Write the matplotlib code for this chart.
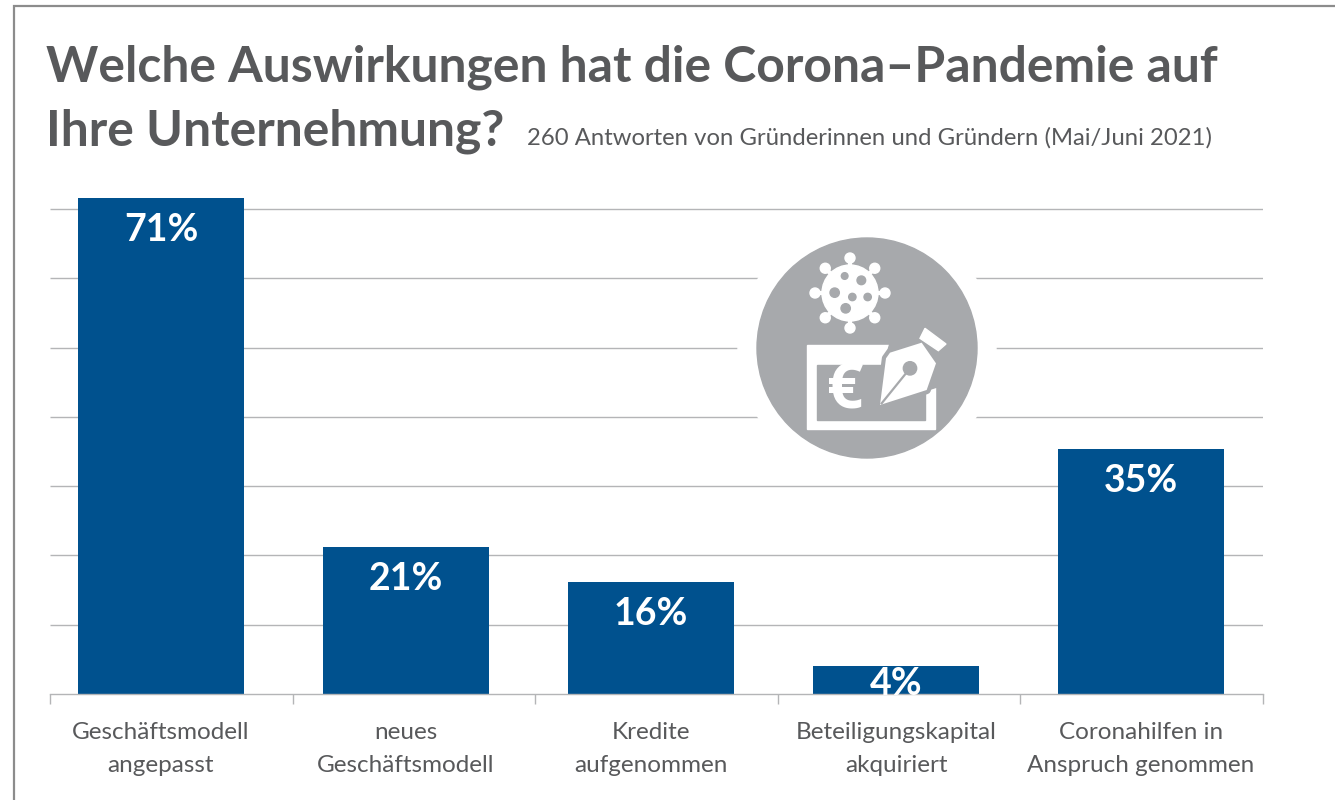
import numpy as np
import matplotlib
matplotlib.use('Agg')
import matplotlib.pyplot as plt
from matplotlib.patches import Circle, Polygon, Rectangle

categories = ['Geschäftsmodell\nangepasst', 'neues\nGeschäftsmodell', 'Kredite\naufgenommen',
              'Beteiligungskapital\nakquiriert', 'Coronahilfen in\nAnspruch genommen']
values = [71, 21, 16, 4, 35]

BLUE = '#00518e'
TEXT = '#58595b'
ICON = '#a7a9ac'
GRID = '#b4b5b7'
FONT = 'Lato'

plt.rcParams['font.family'] = [FONT, 'DejaVu Sans']

fig = plt.figure(figsize=(13.35, 8), dpi=100, facecolor='white')

# main axes, placed by pixels of the reference
ax = fig.add_axes([50 / 1335, (800 - 694) / 800, (1263 - 50) / 1335, (694 - 150) / 800])
ax.patch.set_alpha(0)
ax.set_xlim((50 - 161) / 245, (1263 - 161) / 245)
ax.set_ylim(0, (694 - 150) / 6.99)

grid_y = np.arange(1, 8) * 69.3 / 6.99
ax.hlines(grid_y, *ax.get_xlim(), color=GRID, lw=1, zorder=1)

x = np.arange(len(values))
ax.bar(x, values, width=166 / 245, color=BLUE, zorder=2)

for xi, v in zip(x, values):
    off = -32 if v > 5 else -18
    ax.annotate(f'{v}%', (xi, v), xytext=(0, off * 0.72), textcoords='offset points',
                ha='center', va='center', color='white', fontsize=27, fontweight='bold', zorder=3)

for s in ['top', 'left', 'right']:
    ax.spines[s].set_visible(False)
ax.spines['bottom'].set_color(GRID)
ax.spines['bottom'].set_linewidth(1)
ax.set_yticks([])
ax.set_xticks(x)
ax.set_xticklabels(categories, fontsize=17.5, color=TEXT, linespacing=1.66)
ax.tick_params(axis='x', which='major', length=0, pad=20.5)
ax.set_xticks(np.linspace(*ax.get_xlim(), 6), minor=True)
ax.tick_params(axis='x', which='minor', length=7.2, width=1, color=GRID)

# overlay in pixel coordinates: frame, titles, icon
ov = fig.add_axes([0, 0, 1, 1], zorder=5)
ov.set_xlim(0, 1335)
ov.set_ylim(800, 0)
ov.axis('off')
ov.patch.set_alpha(0)

ov.plot([14, 14, 1335], [800, 6, 6], color='#8c8c8c', lw=1.6, solid_joinstyle='miter')

ov.text(46, 82, 'Welche Auswirkungen hat die Corona–Pandemie auf', fontsize=35.9, fontweight='bold',
        color=TEXT, va='baseline', ha='left')
ov.text(46, 145, 'Ihre Unternehmung?', fontsize=35.9, fontweight='bold',
        color=TEXT, va='baseline', ha='left')
ov.text(527, 145, '260 Antworten von Gründerinnen und Gründern (Mai/Juni 2021)', fontsize=17.2,
        color=TEXT, va='baseline', ha='left')


def zp(pts):
    return [(730 + a / 3, 220 + b / 3) for a, b in pts]


ov.add_patch(Circle((867, 348), 129, color='white', zorder=1))
ov.add_patch(Circle((867, 348), 110, color=ICON, zorder=2))

# virus
cx, cy = 850, 293
ov.add_patch(Circle((cx, cy), 28, color='white', zorder=3))
for ang in np.arange(0, 360, 45) + 0.0:
    ca, sa = np.cos(np.radians(ang)), np.sin(np.radians(ang))
    ov.plot([cx, cx + 35 * ca], [cy, cy + 35 * sa], color='white', lw=3, zorder=3)
    ov.add_patch(Circle((cx + 35 * ca, cy + 35 * sa), 5, color='white', zorder=3))
for a, b, r in [(344, 168, 10), (394, 181, 13), (314, 218, 14), (367, 231, 11), (413, 231, 11), (347, 265, 14)]:
    (px, py), = zp([(a, b)])
    ov.add_patch(Circle((px, py), r / 3, color=ICON, zorder=4))

# payment slip
ov.add_patch(Rectangle((807, 345), 128, 84, color='white', zorder=3))
ov.add_patch(Rectangle((817, 365), 108, 55, color=ICON, zorder=4))
ov.add_patch(Polygon(zp([(480, 370), (625, 370), (625, 500), (560, 520), (450, 470)]), color=ICON, zorder=4))
ov.text(845, 391, '€', fontsize=46, fontweight='bold', family='Open Sans', color='white',
        ha='center', va='center', zorder=5)

# pen
nib = zp([(450, 555), (468, 415), (480, 398), (575, 368), (618, 430), (590, 510)])
ov.add_patch(Polygon(nib, closed=True, fc='white', ec=ICON, lw=6, joinstyle='round', zorder=5))
ov.add_patch(Polygon(nib, closed=True, fc='white', ec='none', zorder=6))
ov.add_patch(Polygon(zp([(585, 325), (648, 372), (625, 392), (570, 355)]), color='white', zorder=6))
(hx, hy), = zp([(540, 445)])
ov.add_patch(Circle((hx, hy), 20 / 3, color=ICON, zorder=7))
slit = np.array(zp([(455, 550), (540, 445)]))
ov.plot(slit[:, 0], slit[:, 1], color=ICON, lw=1.6, zorder=7)

fig.savefig('out.png', dpi=100)
